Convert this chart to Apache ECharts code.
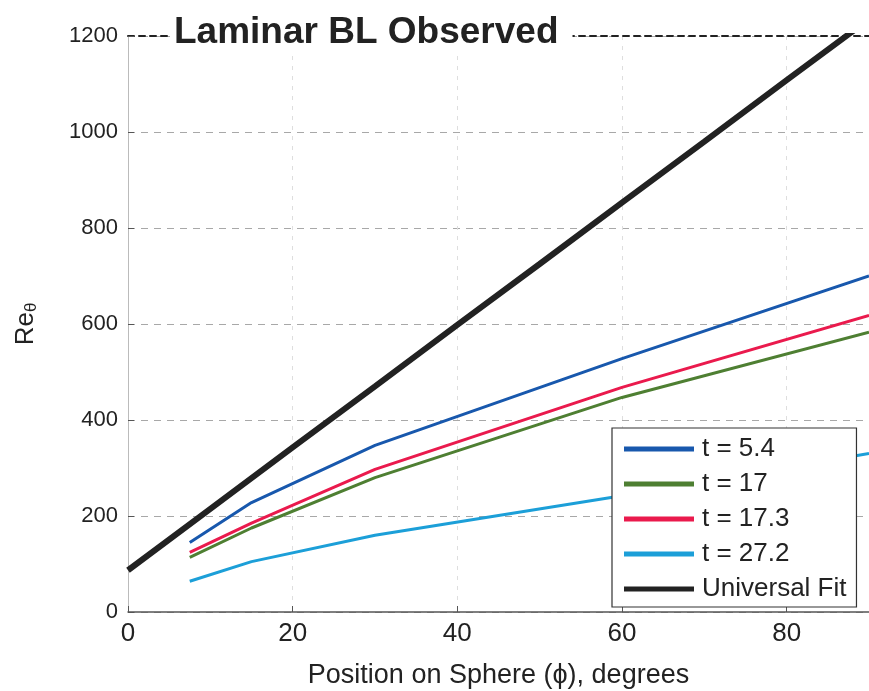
<!DOCTYPE html>
<html><head><meta charset="utf-8">
<script src="https://cdn.jsdelivr.net/npm/echarts@6/dist/echarts.min.js"></script>
<style>html,body{margin:0;padding:0;background:#fff}#c{width:869px;height:691px}</style>
</head><body><div id="c"></div>
<script>
const xTicks = [0, 20, 40, 60, 80];
const phiData = [7.5, 15, 30, 60, 90];
const t54 = [145, 228, 347, 528, 700];
const t17 = [114, 175, 280, 447, 583];
const t173 = [124, 185, 297, 468, 618];
const t272 = [64, 105, 160, 242, 330];
const fitPhi = [0, 10, 20, 30, 40, 50, 60, 70, 80, 90];
const fitRe = [87, 215, 343, 470, 598, 725, 853, 980, 1108, 1235];
const names = ['t = 5.4', 't = 17', 't = 17.3', 't = 27.2', 'Universal Fit'];
const colors = ['#1858ad', '#4e7f32', '#ea1a4d', '#1c9fd8', '#222222'];

const pair = (xs, ys) => xs.map((x, i) => [x, ys[i]]);
const seriesData = [pair(phiData, t54), pair(phiData, t17), pair(phiData, t173), pair(phiData, t272), pair(fitPhi, fitRe)];

const chart = echarts.init(document.getElementById('c'));
const font = 'Liberation Sans, Arial, sans-serif';
chart.setOption({
  animation: false,
  backgroundColor: '#fff',
  title: {
    text: 'Laminar BL Observed', left: 170, top: 12,
    backgroundColor: '#fff', padding: [2, 14, 2, 4],
    textStyle: { fontFamily: font, fontSize: 37, fontWeight: 'bold', color: '#222' }
  },
  grid: { left: 128, right: 0, top: 36, bottom: 79, outerBoundsMode: 'none', containLabel: false },
  legend: {
    orient: 'vertical', left: 612, top: 428, z: 20,
    data: names,
    icon: 'rect', itemWidth: 70, itemHeight: 5, itemGap: 9,
    backgroundColor: '#fff', borderColor: '#333', borderWidth: 1.2,
    padding: [8, 10, 5, 12],
    textStyle: { fontFamily: font, fontSize: 26, color: '#222', padding: [0, 0, 0, 3] }
  },
  xAxis: [{
    type: 'value', min: 0, max: 90, interval: 20,
    name: 'Position on Sphere (\u03d5), degrees', nameLocation: 'middle', nameGap: 50,
    nameTextStyle: { fontFamily: font, fontSize: 27, color: '#222' },
    axisLine: { show: true, lineStyle: { color: '#555', width: 1.5 } },
    axisTick: { show: true, inside: true, length: 6, lineStyle: { color: '#555' } },
    axisLabel: { fontFamily: font, fontSize: 26, color: '#222', margin: 9,
      formatter: v => xTicks.includes(v) ? String(v) : '' , showMaxLabel: false },
    splitLine: { show: true, lineStyle: { type: [4, 6], color: '#dedede' } }
  }, {
    type: 'value', min: 0, max: 90, position: 'top',
    axisLine: { show: true, lineStyle: { color: '#222', width: 2, type: [6, 5] } },
    axisTick: { show: false }, axisLabel: { show: false }, splitLine: { show: false }
  }],
  yAxis: {
    type: 'value', min: 0, max: 1200, interval: 200,
    name: '{a|Re}{b|\u03b8}', nameLocation: 'middle', nameGap: 88,
    nameTextStyle: { rich: {
      a: { fontFamily: font, fontSize: 26, color: '#222' },
      b: { fontFamily: font, fontSize: 17, color: '#222', verticalAlign: 'bottom', padding: [12, 0, 0, 0] }
    } },
    axisLine: { show: true, lineStyle: { color: '#bbb', width: 1 } },
    axisTick: { show: true, inside: true, length: 6, lineStyle: { color: '#555' } },
    axisLabel: { fontFamily: font, fontSize: 22, color: '#222', margin: 10, formatter: v => String(v) },
    splitLine: { show: true, lineStyle: { type: [7, 6], color: '#a8a8a8', width: 1.2 } }
  },
  series: names.map((n, i) => ({
    name: n, type: 'line', data: seriesData[i], symbol: 'none', clip: true,
    lineStyle: { color: colors[i], width: i === 4 ? 6 : 3 },
    itemStyle: { color: colors[i] },
    z: i === 4 ? 3 : 4
  }))
});
</script></body></html>
